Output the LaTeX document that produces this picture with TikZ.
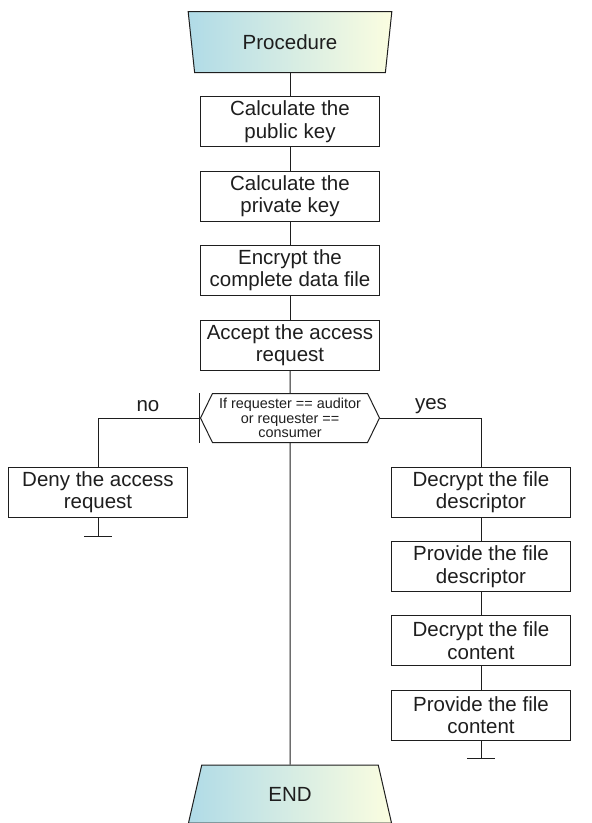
\documentclass[tikz,border=0pt]{standalone}
\usepackage{fontspec}
\setmainfont{Liberation Sans}
\usetikzlibrary{shapes.geometric,shapes.symbols}
\definecolor{termleft}{RGB}{176,219,231}
\definecolor{termright}{RGB}{251,253,224}
\definecolor{ink}{RGB}{30,30,30}
\tikzset{
  flownode/.style = {align=center, inner sep=0pt, text=ink,
    font=\fontsize{20.5}{22.5}\selectfont},
  fl_box/.style = {flownode, rectangle, draw=ink, line width=1pt,
    minimum width=179pt, minimum height=50pt},% action box
  fl_term/.style = {flownode, trapezium, trapezium stretches=true,
    draw=ink, line width=1pt, left color=termleft, right color=termright,
    minimum width=204pt},% start / end
  fl_cond/.style = {flownode, signal, signal to=east and west,
    signal pointer angle=128, draw=ink, line width=1pt,
    minimum width=179pt, minimum height=49pt,
    font=\fontsize{14.4}{14.5}\selectfont},% test
  fl_line/.style = {draw=ink, line width=1pt}
}
\begin{document}
\begin{tikzpicture}[x=1pt,y=-1pt]
  \useasboundingbox (0,0) rectangle (592,823);
  % main column
  \node [fl_term, shape border rotate=180, trapezium left angle=78,
    trapezium right angle=78, minimum height=61pt] (proc) at (290,42) {Procedure};
  \node [fl_box] (pubkey) at (290,121.5) {Calculate the\\public key};
  \node [fl_box] (privkey) at (290,196) {Calculate the\\private key};
  \node [fl_box] (encrypt) at (290,270) {Encrypt the\\complete data file};
  \node [fl_box] (accept) at (290,345) {Accept the access\\request};
  \node [fl_cond] (cond) at (290,418) {If requester == auditor\\or requester ==\\consumer};
  \node [fl_term, trapezium left angle=77, trapezium right angle=77,
    minimum height=58pt] (endnode) at (290,794) {END};
  % no branch
  \node [fl_box] (deny) at (98,492) {Deny the access\\request};
  \node [flownode] (nolbl) at (148,406) {no};
  \coordinate (denyend) at (98,536);
  % yes branch
  \node [flownode] (yeslbl) at (431,406) {yes};
  \node [fl_box] (decdesc) at (481,492) {Decrypt the file\\descriptor};
  \node [fl_box] (provdesc) at (481,566.5) {Provide the file\\descriptor};
  \node [fl_box] (deccont) at (481,640.5) {Decrypt the file\\content};
  \node [fl_box] (provcont) at (481,715) {Provide the file\\content};
  \coordinate (provend) at (481,758);

  \draw [fl_line] (proc) -- (pubkey);
  \draw [fl_line] (pubkey) -- (privkey);
  \draw [fl_line] (privkey) -- (encrypt);
  \draw [fl_line] (encrypt) -- (accept);
  \draw [fl_line] (accept) -- (cond);
  \draw [fl_line] (cond.south) -- (endnode.north);
  \draw [fl_line] (cond.west) -| (deny.north);
  \draw [fl_line] ([yshift=25pt]cond.west) -- ([yshift=-25pt]cond.west);
  \draw [fl_line] (deny) -- (denyend);
  \draw [fl_line] ([xshift=-14pt]denyend) -- ([xshift=14pt]denyend);
  \draw [fl_line] (cond.east) -| (decdesc.north);
  \draw [fl_line] (decdesc) -- (provdesc);
  \draw [fl_line] (provdesc) -- (deccont);
  \draw [fl_line] (deccont) -- (provcont);
  \draw [fl_line] (provcont) -- (provend);
  \draw [fl_line] ([xshift=-14pt]provend) -- ([xshift=14pt]provend);
\end{tikzpicture}
\end{document}
